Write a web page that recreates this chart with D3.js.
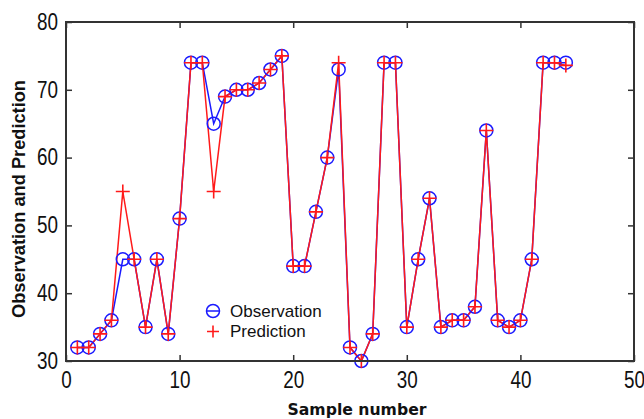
<!DOCTYPE html>
<html>
<head>
<meta charset="utf-8">
<script src="https://cdn.jsdelivr.net/npm/d3@7"></script>
<style>
  body { margin: 0; background: #fff; }
  svg { display: block; }
  .tick text { font-family: "Liberation Sans", Arial, sans-serif; font-size: 23px; fill: #111; }
</style>
</head>
<body>
<svg width="644" height="419"></svg>
<script>
// sample numbers 1..44
const samples = [1,2,3,4,5,6,7,8,9,10,11,12,13,14,15,16,17,18,19,20,21,22,
  23,24,25,26,27,28,29,30,31,32,33,34,35,36,37,38,39,40,41,42,43,44];
const observation = [32,32,34,36,45,45,35,45,34,51,74,74,65,69,70,70,71,73,75,44,44,52,
  60,73,32,30,34,74,74,35,45,54,35,36,36,38,64,36,35,36,45,74,74,74];
const prediction = [32,32,34,36,55,45,35,45,34,51,74,74,55,69,70,70,71,73,75,44,44,52,
  60,74,32,30,34,74,74,35,45,54,35,36,36,38,64,36,35,36,45,74,74,73.6];
const xTicks = [0,10,20,30,40,50];
const yTicks = [30,40,50,60,70,80];

const svg = d3.select("svg");
const pL = 66, pR = 634, pT = 22, pB = 361;

const x = d3.scaleLinear().domain([0, 50]).range([pL, pR]);
const y = d3.scaleLinear().domain([30, 80]).range([pB, pT]);

const plot = svg.append("g");

// lines: observation under prediction
const line = vals => d3.line().x((d, i) => x(samples[i])).y(d => y(d))(vals);
plot.append("path").attr("d", line(observation))
  .attr("fill", "none").attr("stroke", "#1a1aff").attr("stroke-width", 1.5);
plot.append("path").attr("d", line(prediction))
  .attr("fill", "none").attr("stroke", "#ff1a1a").attr("stroke-width", 1.5);

plot.selectAll("circle.obs").data(observation).enter().append("circle")
  .attr("class", "obs")
  .attr("cx", (d, i) => x(samples[i])).attr("cy", d => y(d)).attr("r", 6.5)
  .attr("fill", "none").attr("stroke", "#1a1aff").attr("stroke-width", 1.5);

plot.selectAll("path.pred").data(prediction).enter().append("path")
  .attr("class", "pred")
  .attr("transform", (d, i) => `translate(${x(samples[i])},${y(d)})`)
  .attr("d", "M-7,0H7M0,-7V7")
  .attr("stroke", "#ff1a1a").attr("stroke-width", 1.6).attr("fill", "none");

// axes (ticks inward on all sides)
const axStyle = g => {
  g.select(".domain").remove();
  g.selectAll(".tick line").attr("stroke", "#333").attr("stroke-width", 1.5);
  // narrow digits like the original
  g.selectAll(".tick text").each(function() {
    const t = d3.select(this);
    if (t.text()) t.attr("textLength", t.text().length * 10.5).attr("lengthAdjust", "spacingAndGlyphs");
  });
};
svg.append("g").attr("transform", `translate(0,${pB})`)
  .call(d3.axisBottom(x).tickValues(xTicks).tickSizeInner(-6))
  .call(axStyle)
  .selectAll("text").attr("y", 27).attr("dy", 0);
svg.append("g").attr("transform", `translate(0,${pT})`)
  .call(d3.axisTop(x).tickValues(xTicks).tickSizeInner(-6).tickFormat(""))
  .call(axStyle);
svg.append("g").attr("transform", `translate(${pL},0)`)
  .call(d3.axisLeft(y).tickValues(yTicks).tickSizeInner(-6).tickPadding(8))
  .call(axStyle);
svg.append("g").attr("transform", `translate(${pR},0)`)
  .call(d3.axisRight(y).tickValues(yTicks).tickSizeInner(-6).tickFormat(""))
  .call(axStyle);

svg.append("rect").attr("x", pL).attr("y", pT)
  .attr("width", pR - pL).attr("height", pB - pT)
  .attr("fill", "none").attr("stroke", "#333").attr("stroke-width", 2);

// axis titles
svg.append("text").attr("x", 357).attr("y", 415).attr("text-anchor", "middle")
  .attr("font-family", "DejaVu Sans, sans-serif").attr("font-weight", "bold")
  .attr("font-size", 16).attr("textLength", 139).attr("lengthAdjust", "spacingAndGlyphs")
  .attr("fill", "#111").text("Sample number");
svg.append("text").attr("transform", "translate(25,199) rotate(-90)")
  .attr("text-anchor", "middle")
  .attr("font-family", "Liberation Sans, Arial, sans-serif").attr("font-weight", "bold")
  .attr("font-size", 19).attr("textLength", 238).attr("lengthAdjust", "spacingAndGlyphs")
  .attr("fill", "#111").text("Observation and Prediction");

// legend
const lg = svg.append("g");
lg.append("circle").attr("cx", 213).attr("cy", 311).attr("r", 6.5)
  .attr("fill", "none").attr("stroke", "#1a1aff").attr("stroke-width", 1.5);
lg.append("line").attr("x1", 206.5).attr("x2", 219.5).attr("y1", 311).attr("y2", 311)
  .attr("stroke", "#1a1aff").attr("stroke-width", 1.5);
lg.append("path").attr("transform", "translate(213,331.5)").attr("d", "M-6,0H6M0,-6V6")
  .attr("stroke", "#ff1a1a").attr("stroke-width", 1.6);
lg.append("text").attr("x", 230).attr("y", 317)
  .attr("font-family", "Liberation Sans, Arial, sans-serif").attr("font-size", 17)
  .attr("fill", "#111").text("Observation");
lg.append("text").attr("x", 230).attr("y", 337)
  .attr("font-family", "Liberation Sans, Arial, sans-serif").attr("font-size", 17)
  .attr("fill", "#111").text("Prediction");
</script>
</body>
</html>
